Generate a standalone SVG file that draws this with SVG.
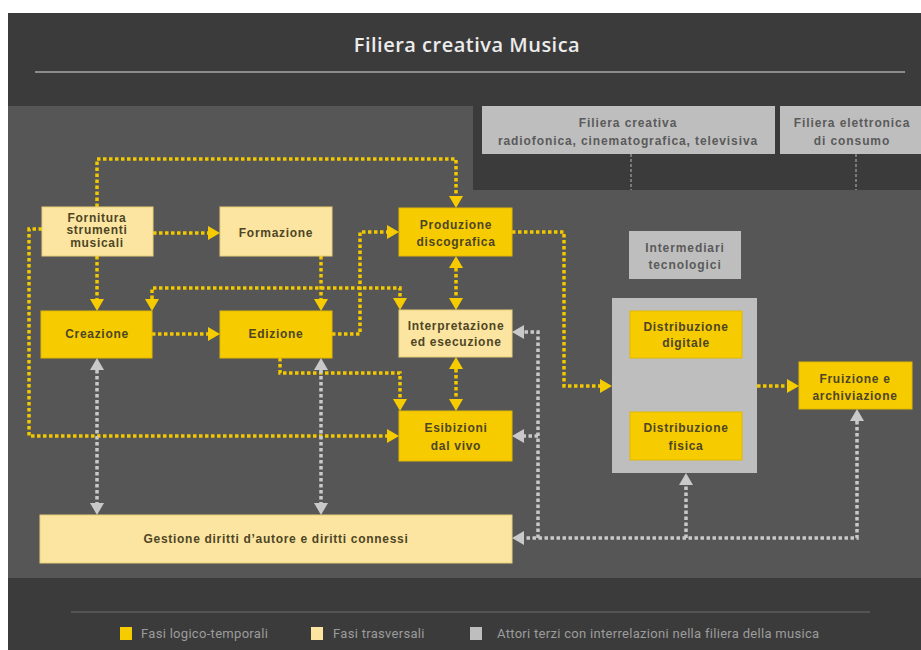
<svg xmlns="http://www.w3.org/2000/svg" width="921" height="650" viewBox="0 0 921 650">
<defs>
<style>
.band{fill:#3b3b3b}
.panel{fill:#565656}
.y{fill:#f6cc00;stroke:#e2b800;stroke-width:1}
.ly{fill:#fbe5a0;stroke:#e9cf7a;stroke-width:1}
.g{fill:#bebebe}
.t{font-family:"Liberation Sans",Arial,sans-serif;font-weight:bold;font-size:12px;letter-spacing:0.7px;fill:#4e4526;text-anchor:middle}
.tg{font-family:"Liberation Sans",Arial,sans-serif;font-weight:bold;font-size:12px;letter-spacing:0.9px;fill:#5a5a5a;text-anchor:middle}
.yl{fill:none;stroke:#f2c800;stroke-width:3.5;stroke-dasharray:3.5 2.5}
.gl{fill:none;stroke:#c9c9c9;stroke-width:3.5;stroke-dasharray:3.5 2.5}
.fl{fill:none;stroke:#7a7a7a;stroke-width:2;stroke-dasharray:3 2}
.leg{font-family:Roboto,"Liberation Sans",sans-serif;font-size:13px;letter-spacing:0.3px;fill:#9c9c9c}
</style>
<marker id="ay" viewBox="0 0 12 14" refX="0" refY="7" markerWidth="12" markerHeight="14" markerUnits="userSpaceOnUse" orient="auto-start-reverse"><path d="M0,0 L12,7 L0,14 z" fill="#f6cc00"/></marker>
<marker id="ag" viewBox="0 0 12 14" refX="0" refY="7" markerWidth="12" markerHeight="14" markerUnits="userSpaceOnUse" orient="auto-start-reverse"><path d="M0,0 L12,7 L0,14 z" fill="#c9c9c9"/></marker>
</defs>
<rect x="0" y="0" width="921" height="650" fill="#ffffff"/>
<rect class="band" x="8" y="13" width="913" height="637"/>
<rect class="panel" x="8" y="106" width="913" height="472"/>
<rect class="band" x="473" y="106" width="448" height="84"/>
<text x="467" y="52" font-family="'Open Sans','Liberation Sans',sans-serif" font-size="20" font-weight="600" letter-spacing="0.5" fill="#ececec" text-anchor="middle">Filiera creativa Musica</text>
<line x1="35" y1="72" x2="905" y2="72" stroke="#8c8c8c" stroke-width="2"/>
<line x1="71" y1="612" x2="870" y2="612" stroke="#5e5e5e" stroke-width="1.5"/>

<g id="connectors">
<path class="fl" d="M631,154 V190"/>
<path class="fl" d="M856,154 V190"/>
<path class="yl" d="M153,233 H208" marker-end="url(#ay)"/>
<path class="yl" d="M152,334 H208" marker-end="url(#ay)"/>
<path class="yl" d="M97,207 V159 H456 V196" marker-end="url(#ay)"/>
<path class="yl" d="M97,256 V299" marker-end="url(#ay)"/>
<path class="yl" d="M321,256 V299" marker-end="url(#ay)"/>
<path class="yl" d="M42,229 H29 V436 H387" marker-end="url(#ay)"/>
<path class="yl" d="M332,334 H360 V232 H387" marker-end="url(#ay)"/>
<path class="yl" d="M152,299 V288 H400 V298" marker-start="url(#ay)" marker-end="url(#ay)"/>
<path class="yl" d="M456,268 V298" marker-start="url(#ay)" marker-end="url(#ay)"/>
<path class="yl" d="M456,369 V399" marker-start="url(#ay)" marker-end="url(#ay)"/>
<path class="yl" d="M280,358 V373 H400 V399" marker-end="url(#ay)"/>
<path class="yl" d="M512,232 H564 V386 H600" marker-end="url(#ay)"/>
<path class="yl" d="M757,386 H787" marker-end="url(#ay)"/>
<path class="gl" d="M97,370 V503" marker-start="url(#ag)" marker-end="url(#ag)"/>
<path class="gl" d="M321,370 V503" marker-start="url(#ag)" marker-end="url(#ag)"/>
<path class="gl" d="M857,421 V538 H524" marker-start="url(#ag)" marker-end="url(#ag)"/>
<path class="gl" d="M686,538 V485" marker-end="url(#ag)"/>
<path class="gl" d="M538,538 V332 H524" marker-end="url(#ag)"/>
<path class="gl" d="M538,436 H524" marker-end="url(#ag)"/>
</g>

<g id="filiera-radio"><rect class="g" x="482" y="106" width="293" height="48"/><text class="tg" x="628" y="127">Filiera creativa</text><text class="tg" x="628" y="145">radiofonica, cinematografica, televisiva</text></g>
<g id="filiera-elettronica"><rect class="g" x="780" y="106" width="141" height="48"/><text class="tg" x="852" y="127">Filiera elettronica</text><text class="tg" x="852" y="145">di consumo</text></g>
<g id="intermediari"><rect class="g" x="629" y="231" width="112" height="48"/><text class="tg" x="685" y="252">Intermediari</text><text class="tg" x="685" y="269">tecnologici</text></g>
<g id="contenitore-distribuzione"><rect class="g" x="612" y="298" width="145" height="175"/></g>
<g id="fornitura"><rect class="ly" x="42" y="207" width="111" height="49"/><text class="t" x="97" y="222" font-size="10.5">Fornitura</text><text class="t" x="97" y="234.3" font-size="10.5">strumenti</text><text class="t" x="97" y="246.6" font-size="10.5">musicali</text></g>
<g id="formazione"><rect class="ly" x="220" y="207" width="112" height="49"/><text class="t" x="276" y="237">Formazione</text></g>
<g id="produzione"><rect class="y" x="399" y="208" width="113" height="48"/><text class="t" x="456" y="229">Produzione</text><text class="t" x="456" y="246">discografica</text></g>
<g id="creazione"><rect class="y" x="41" y="311" width="111" height="47"/><text class="t" x="97" y="338">Creazione</text></g>
<g id="edizione"><rect class="y" x="220" y="311" width="112" height="47"/><text class="t" x="276" y="338">Edizione</text></g>
<g id="interpretazione"><rect class="ly" x="399" y="310" width="113" height="47"/><text class="t" x="456" y="330">Interpretazione</text><text class="t" x="456" y="346">ed esecuzione</text></g>
<g id="esibizioni"><rect class="y" x="399" y="411" width="113" height="50"/><text class="t" x="456" y="432">Esibizioni</text><text class="t" x="456" y="450">dal vivo</text></g>
<g id="distribuzione-digitale"><rect class="y" x="630" y="311" width="112" height="47"/><text class="t" x="686" y="331">Distribuzione</text><text class="t" x="686" y="347">digitale</text></g>
<g id="distribuzione-fisica"><rect class="y" x="630" y="412" width="112" height="48"/><text class="t" x="686" y="432">Distribuzione</text><text class="t" x="686" y="450">fisica</text></g>
<g id="fruizione"><rect class="y" x="799" y="362" width="113" height="47"/><text class="t" x="855" y="383">Fruizione e</text><text class="t" x="855" y="400">archiviazione</text></g>
<g id="gestione"><rect class="ly" x="40" y="515" width="472" height="48"/><text class="t" x="276" y="543" letter-spacing="0.3">Gestione diritti d’autore e diritti connessi</text></g>

<g id="legenda">
<rect x="120" y="627" width="12" height="13" fill="#f6cc00"/><text class="leg" x="141" y="638">Fasi logico-temporali</text>
<rect x="311" y="627" width="12" height="13" fill="#fbe5a0"/><text class="leg" x="333" y="638">Fasi trasversali</text>
<rect x="470" y="627" width="12" height="13" fill="#bebebe"/><text class="leg" x="497" y="638">Attori terzi con interrelazioni nella filiera della musica</text>
</g>
</svg>
